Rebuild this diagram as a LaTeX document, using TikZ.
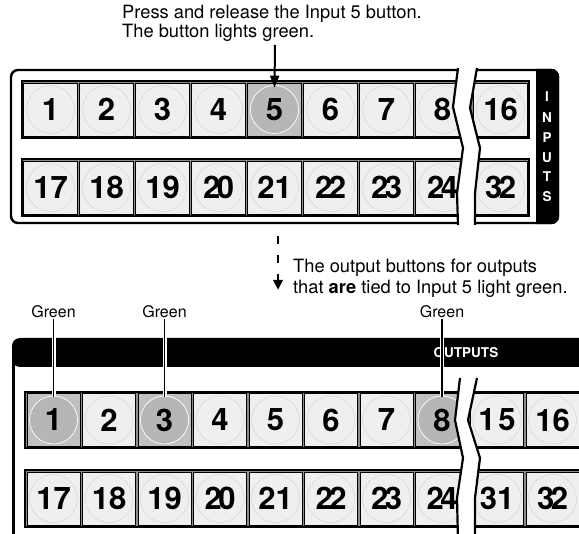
\documentclass[tikz,border=0pt]{standalone}
\usepackage{fontspec}
\setmainfont{TeX Gyre Heros}
\usetikzlibrary{arrows.meta}
\definecolor{btnfill}{HTML}{EFEFEF}
\definecolor{litfill}{HTML}{C0C0C2}
\definecolor{litcirc}{HTML}{B6B6B8}
\definecolor{ringgray}{HTML}{D6D6D6}
\definecolor{rowgray}{HTML}{8C8C8C}
\begin{document}
\begin{tikzpicture}[x=1pt,y=-1pt,
  rowbox/.style={fill=rowgray, draw=black, line width=1.1pt},
  btn/.style={draw=black, line width=0.6pt, fill=btnfill, minimum width=53.5pt, minimum height=53pt, inner sep=0pt,
    font=\fontsize{31pt}{31pt}\selectfont\bfseries,
    path picture={\draw[ringgray, line width=0.5pt] (path picture bounding box.center) circle (24pt);}},
  litbtn/.style={btn, fill=litfill,
    path picture={\fill[litcirc] (path picture bounding box.center) circle (24pt);
      \draw[white, line width=0.7pt] (path picture bounding box.center) circle (24pt);}},
  txt/.style={anchor=west, inner sep=0pt, font=\fontsize{18.3pt}{22pt}\selectfont},
  small/.style={inner sep=1pt, font=\fontsize{16pt}{18pt}\selectfont},
  barlabel/.style={inner sep=0pt, text=white, font=\fontsize{13.5pt}{13.5pt}\selectfont\bfseries},
  breakline/.style={draw=black, line width=2.2pt, line join=miter}
]
\useasboundingbox (0,0) rectangle (579,534);

% ---------------- top panel (inputs) ----------------
\draw[line width=2.4pt, rounded corners=7pt, fill=white] (11,70) rectangle (558,223);
\begin{scope}
  \clip (536,60) rectangle (570,235);
  \fill[rounded corners=8pt] (9.8,68.8) rectangle (559.2,224.2);
\end{scope}
\foreach \c/\y [count=\i] in {I/97,N/118,P/138,U/158,T/177,S/197}
  \node[barlabel] (inl\i) at (547,\y) {\c};

\draw[rowbox] (22,81) rectangle (529,138);
\draw[rowbox] (22,159) rectangle (529,216);
\foreach \k/\lab in {0/1,1/2,2/3,3/4,5/6,6/7,7/8}
  \node[btn] (in\lab) at ({50.5+56*\k},109.5) {\lab};
\node[litbtn] (in5) at (274.5,109.5) {5};
\node[btn] (in16) at (500.5,109.5) {16};
\foreach \k/\nm/\lab in {0/17/17,1/18/18,2/19/19,3/20/{2\kern-3.5pt 0},4/21/21,5/22/{2\kern-3.5pt 2},6/23/{2\kern-3.5pt 3},7/24/{2\kern-3.5pt 4}}
  \node[btn] (in\nm) at ({50.5+56*\k},187.5) {\lab};
\node[btn] (in32) at (500.5,187.5) {3\kern-3.5pt 2};

% break in top panel
\fill[white] (458,68) -- (453,107) -- (463,148) -- (457,193) -- (458,225)
  -- (475,225) -- (475,193) -- (480,148) -- (470,108) -- (477,68) -- cycle;
\draw[breakline] (458,68) -- (453,107) -- (463,148) -- (457,193) -- (458,225);
\draw[breakline] (477,68) -- (470,108) -- (480,148) -- (475,193) -- (475,225);

% ---------------- top texts and arrow ----------------
\node[txt] (t1) at (122,14) {Press and release the Input 5 button.};
\node[txt] (t2) at (122,33) {The button lights green.};
\coordinate (a0) at (275,45);
\draw[line width=2pt, -{Triangle[length=12pt,width=9pt]}] (a0) -- ([yshift=-5pt]in5.north);

% ---------------- middle dashed arrow and text ----------------
\coordinate (d0) at (278,236);
\coordinate (d1) at (278,290);
\draw[line width=2.5pt, dash pattern=on 8pt off 11pt, -{Triangle[length=10pt,width=9pt]}] (d0) -- (d1);
\node[txt] (t3) at (293,268) {The output buttons for outputs};
\node[txt] (t4) at (293,289) {that \textbf{are} tied to Input 5 light green.};

% ---------------- bottom panel (outputs) ----------------
\fill[rounded corners=8pt] (12,338) rectangle (600,367);
\draw[line width=3pt] (13.5,355) -- (13.5,540);
\node[barlabel] (outl) at (466,353) {OUTPUTS};

\draw[rowbox] (25,392) rectangle (590,448);
\draw[rowbox] (25,470) rectangle (590,527);
\foreach \k/\lab in {1/2,3/4,4/5,5/6,6/7}
  \node[btn, minimum width=53pt] (out\lab) at ({53.5+55.5*\k},420) {\lab};
\foreach \k/\lab in {0/1,2/3,7/8}
  \node[litbtn, minimum width=53pt] (out\lab) at ({53.5+55.5*\k},420) {\lab};
\node[btn, minimum width=53pt] (out15) at (497,420) {1\kern3pt 5};
\node[btn, minimum width=53pt] (out16) at (552.5,420) {16};
\foreach \k/\nm/\lab in {0/17/17,1/18/18,2/19/19,3/20/{2\kern-3.5pt 0},4/21/21,5/22/{2\kern-3.5pt 2},6/23/{2\kern-3.5pt 3},7/24/{2\kern-3.5pt 4}}
  \node[btn, minimum width=53pt] (out\nm) at ({53.5+55.5*\k},498.5) {\lab};
\node[btn, minimum width=53pt] (out31) at (497,498.5) {31};
\node[btn, minimum width=53pt] (out32) at (552.5,498.5) {3\kern-3.5pt 2};

% break in bottom panel
\fill[white] (460,378) -- (455,420) -- (463,458) -- (457,498) -- (458,540)
  -- (475,540) -- (475,498) -- (480,458) -- (468,420) -- (477,378) -- cycle;
\draw[breakline] (460,378) -- (455,420) -- (463,458) -- (457,498) -- (458,540);
\draw[breakline] (477,378) -- (468,420) -- (480,458) -- (475,498) -- (475,540);

% ---------------- Green callouts ----------------
\node[small] (g1) at (53.5,312) {Green};
\node[small] (g3) at (164.5,312) {Green};
\node[small] (g8) at (442,312) {Green};
\foreach \n in {1,3,8}{
  \draw[white, line width=4pt] (g\n.south) -- ([yshift=-4pt]out\n.north);
  \draw[black, line width=1.6pt] (g\n.south) -- ([yshift=-4pt]out\n.north);
}
\end{tikzpicture}
\end{document}
